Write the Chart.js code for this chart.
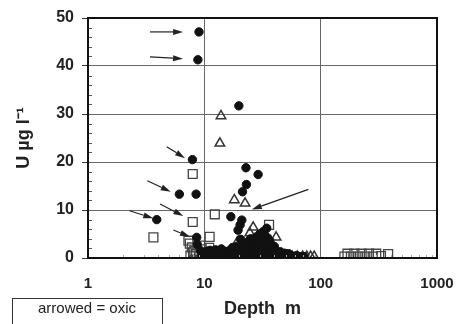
<!DOCTYPE html>
<html>
<head>
<meta charset="utf-8">
<script src="https://cdn.jsdelivr.net/npm/chart.js@4/dist/chart.umd.min.js"></script>
<style>
  html, body { margin: 0; padding: 0; background: #fff; }
  #wrap { width: 458px; height: 324px; }
</style>
</head>
<body>
<div id="wrap"><canvas id="uChart" width="458" height="324"></canvas></div>
<script>
// Datos: [profundidad m, U ug/l]
const circles = [
  [9.0, 47.1], [8.8, 41.3], [19.8, 31.7], [7.9, 20.5], [22.8, 18.8], [29, 17.4], [23, 15.3],
  [21.3, 13.8], [6.1, 13.3], [8.5, 13.3], [16.9, 8.6], [3.9, 8.0], [21, 7.9], [20.3, 6.9],
  [19.5, 5.8], [8.6, 4.3], [34.4, 6.2], [33, 4.8], [32, 5.5], [35, 4.2], [30, 3.8], [27, 3.2],
  [24, 3.5], [20.5, 3.9], [37, 3.0], [31, 2.6], [40, 2.4], [26, 2.2], [22, 1.8], [18, 1.6],
  [15, 1.4], [13, 1.2], [11, 1.0], [10, 0.6], [12, 0.4], [14, 0.8], [16, 0.5], [17, 1.0],
  [19, 0.3], [20, 1.2], [21, 0.6], [23, 0.4], [25, 1.3], [26, 0.7], [28, 1.6], [29, 0.5],
  [31, 1.1], [33, 0.4], [34, 1.9], [36, 0.9], [38, 1.4], [39, 0.4], [42, 1.0], [44, 0.5],
  [46, 0.8], [48, 0.3], [52, 0.4], [9.5, 0.3], [10.5, 1.4], [12.5, 1.7], [14, 1.9], [15.5, 0.3],
  [17.5, 2.2], [24, 2.6], [29, 2.9], [32, 3.3], [36, 2.1], [38, 2.6], [28, 4.4], [30, 5.0],
  [25, 4.0], [8.7, 2.8], [9.3, 1.5], [22, 2.8], [19, 2.4], [11.5, 0.2], [13.5, 0.2], [15, 0.9],
  [18.5, 0.8], [22, 0.2], [24, 0.9], [27, 0.3], [30, 0.2], [32, 0.8], [35, 0.3], [37, 0.5],
  [41, 0.2], [43, 1.2], [47, 0.2], [50, 0.6], [55, 0.2], [60, 0.2], [65, 0.3],
  [10.3, 0.2], [10.8, 0.9], [11.2, 1.6], [11.8, 0.6], [12.2, 1.1], [12.8, 0.2], [13.2, 0.7],
  [13.8, 1.5], [14.5, 0.4], [15.2, 1.2], [15.8, 0.6], [16.3, 1.5], [16.8, 0.2], [17.2, 0.6],
  [17.8, 1.3], [18.2, 0.3], [19.5, 1.0], [20.5, 0.3], [21.5, 1.5], [22.5, 1.0], [23.5, 1.8],
  [24.5, 0.3], [25.5, 2.2], [26.5, 1.5], [27.5, 1.0], [28.5, 2.2], [29.5, 1.3], [30.5, 3.2],
  [31.5, 1.8], [32.5, 2.3], [33.5, 1.2], [34.5, 3.0], [35.5, 1.5], [36.5, 3.6], [37.5, 1.1],
  [38.5, 0.2], [39.5, 1.8], [41, 1.5], [43, 0.4], [45, 1.3], [49, 1.0], [53, 0.9], [57, 0.4],
  [62, 0.5], [68, 0.2], [72, 0.3]
];
const triangles = [
  [13.9, 29.6], [13.6, 23.9], [18.1, 12.1], [22.4, 11.4], [26.3, 6.4], [24.6, 5.2], [41.4, 4.3],
  [19.2, 3.3], [27, 2.0], [45, 0.5], [50, 0.3], [57, 0.3], [63, 0.3], [70, 0.3], [76, 0.3],
  [82, 0.3], [88, 0.3]
];
const squares = [
  [7.95, 17.5], [7.95, 7.5], [3.65, 4.3], [7.3, 3.6], [12.3, 9.1], [11.1, 4.4], [36, 6.9],
  [7.5, 3.0], [7.8, 2.2], [8.2, 1.5], [8.5, 0.8], [9.0, 0.4], [9.5, 1.8], [10.2, 1.0],
  [10.8, 0.5], [11.5, 1.3], [12.0, 0.3], [12.8, 0.8], [13.5, 0.4], [7.6, 0.5], [8.0, 1.2],
  [14.5, 1.1], [9.2, 2.6], [11.0, 2.1],
  [160, 0.3], [170, 0.9], [182, 0.3], [195, 0.9], [210, 0.3], [225, 0.9], [242, 0.3],
  [260, 0.9], [280, 0.3], [300, 0.9], [330, 0.4], [380, 0.8]
];
// flechas "oxic": [desde x, desde y, hasta x, hasta y]
const arrows = [
  [3.41, 47.1, 6.56, 47.1], [3.41, 41.9, 6.56, 41.5], [4.75, 23.2, 6.82, 20.8],
  [3.24, 16.1, 5.14, 13.8], [4.16, 11.25, 6.6, 8.75], [2.27, 9.85, 3.64, 8.27],
  [5.41, 5.83, 7.53, 4.44], [78.4, 14.3, 25.6, 10.1]
];
const xTicks = [1, 10, 100, 1000];
const yTicks = [0, 10, 20, 30, 40, 50];
const legendText = 'arrowed = oxic';

const toPts = arr => arr.map(p => ({ x: p[0], y: p[1] }));

// Flechas, marco y ticks menores
const extras = {
  id: 'extras',
  afterDatasetsDraw(chart) {
    const { ctx, scales: { x, y } } = chart;
    ctx.save();
    ctx.strokeStyle = '#222';
    ctx.fillStyle = '#222';
    ctx.lineWidth = 1.2;
    arrows.forEach(a => {
      const x1 = x.getPixelForValue(a[0]), y1 = y.getPixelForValue(a[1]);
      const x2 = x.getPixelForValue(a[2]), y2 = y.getPixelForValue(a[3]);
      const ang = Math.atan2(y2 - y1, x2 - x1);
      const hl = 10, hw = 3;
      const bx = x2 - Math.cos(ang) * hl, by = y2 - Math.sin(ang) * hl;
      ctx.beginPath();
      ctx.moveTo(x1, y1);
      ctx.lineTo(bx, by);
      ctx.stroke();
      ctx.beginPath();
      ctx.moveTo(x2, y2);
      ctx.lineTo(bx + Math.sin(ang) * hw, by - Math.cos(ang) * hw);
      ctx.lineTo(bx - Math.sin(ang) * hw, by + Math.cos(ang) * hw);
      ctx.closePath();
      ctx.fill();
    });
    ctx.restore();
  },
  afterDraw(chart) {
    const { ctx, chartArea: a, scales: { x, y } } = chart;
    ctx.save();
    // ticks menores en y (cada 2)
    ctx.strokeStyle = '#555';
    ctx.lineWidth = 1;
    for (let v = 2; v < 50; v += 2) {
      if (v % 10 === 0) continue;
      const py = Math.round(y.getPixelForValue(v)) + 0.5;
      ctx.beginPath();
      ctx.moveTo(a.left, py);
      ctx.lineTo(a.left + 4, py);
      ctx.stroke();
    }
    // ticks menores log en x
    ctx.strokeStyle = '#aaa';
    for (let d = 1; d < 1000; d *= 10) {
      for (let k = 2; k < 10; k++) {
        const px = Math.round(x.getPixelForValue(d * k)) + 0.5;
        ctx.beginPath();
        ctx.moveTo(px, a.bottom);
        ctx.lineTo(px, a.bottom - 3);
        ctx.stroke();
      }
    }
    // marco
    ctx.strokeStyle = '#111';
    ctx.lineWidth = 2;
    ctx.strokeRect(a.left, a.top, a.right - a.left, a.bottom - a.top);
    // cuadro de leyenda
    ctx.lineWidth = 1;
    ctx.strokeStyle = '#333';
    ctx.strokeRect(12.5, 298.5, 150, 30);
    ctx.fillStyle = '#222';
    ctx.font = '15px "Liberation Sans", Arial, sans-serif';
    ctx.textAlign = 'center';
    ctx.textBaseline = 'middle';
    ctx.fillText(legendText, 87, 309);
    ctx.restore();
  }
};

const ctx = document.getElementById('uChart').getContext('2d');
new Chart(ctx, {
  type: 'scatter',
  data: {
    datasets: [
      {
        label: 'circles',
        data: toPts(circles),
        pointStyle: 'circle',
        pointRadius: 4.2,
        backgroundColor: '#111',
        borderColor: '#111',
        borderWidth: 1
      },
      {
        label: 'triangles',
        data: toPts(triangles),
        pointStyle: 'triangle',
        pointRadius: 5.5,
        backgroundColor: 'rgba(255,255,255,0)',
        borderColor: '#333',
        borderWidth: 1.5
      },
      {
        label: 'squares',
        data: toPts(squares),
        pointStyle: 'rect',
        pointRadius: 6.3,
        backgroundColor: 'rgba(255,255,255,0)',
        borderColor: '#444',
        borderWidth: 1.3
      }
    ]
  },
  options: {
    responsive: false,
    animation: false,
    devicePixelRatio: 1,
    layout: { padding: { top: 18, right: 21, left: 0, bottom: 0 } },
    plugins: { legend: { display: false }, tooltip: { enabled: false } },
    scales: {
      x: {
        type: 'logarithmic',
        min: 1,
        max: 1000,
        afterBuildTicks: s => { s.ticks = xTicks.map(v => ({ value: v })); },
        afterFit: s => { s.height = 66; s.paddingRight = 0; s.paddingLeft = 0; },
        border: { display: false },
        grid: { color: '#666', lineWidth: 1, drawTicks: false },
        ticks: {
          padding: 17,
          color: '#222',
          font: { family: '"Liberation Sans", Arial, sans-serif', size: 15, weight: 'bold' },
          callback: v => String(v)
        },
        title: {
          display: true,
          text: 'Depth  m',
          color: '#222',
          padding: { top: 0, bottom: 4 },
          font: { family: '"Liberation Sans", Arial, sans-serif', size: 18, weight: 'bold' }
        }
      },
      y: {
        min: 0,
        max: 50,
        afterBuildTicks: s => { s.ticks = yTicks.map(v => ({ value: v })); },
        afterFit: s => { s.width = 88; },
        border: { display: false },
        grid: { color: '#666', lineWidth: 1, tickLength: 6, tickColor: '#333' },
        ticks: {
          padding: 8,
          color: '#222',
          font: { family: '"Liberation Sans", Arial, sans-serif', size: 16, weight: 'bold' }
        },
        title: {
          display: true,
          text: 'U µg l⁻¹',
          color: '#222',
          padding: { top: 13, bottom: 0 },
          font: { family: '"Liberation Sans", Arial, sans-serif', size: 18, weight: 'bold' }
        }
      }
    }
  },
  plugins: [extras]
});
</script>
</body>
</html>
